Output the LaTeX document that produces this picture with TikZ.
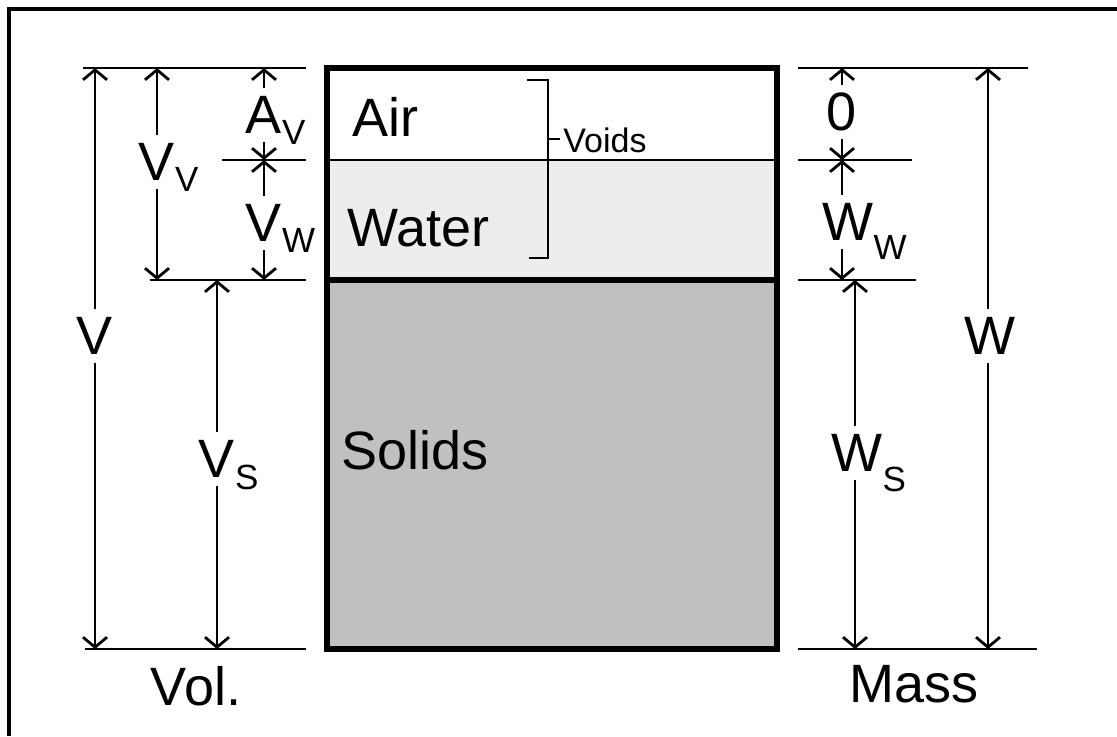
\documentclass[tikz,border=0pt]{standalone}
\usepackage{fontspec}
\setmainfont{Liberation Sans}
\usepackage{xcolor}
\usepackage{tikz}
\usetikzlibrary{arrows.meta}
\definecolor{waterfill}{HTML}{EDEDED}
\definecolor{solidfill}{HTML}{C0C0C0}
% subscript hanging right of the letter, optional drop
\newcommand\sbs[2][5.5pt]{\rlap{\raisebox{-#1}[0pt][0pt]{\fontsize{17.5}{20}\selectfont #2}}}

\begin{document}
\begin{tikzpicture}[
    x=0.5pt, y=-0.5pt,
    every node/.style={font=\fontsize{27}{30}\selectfont, inner sep=0pt},
    extline/.style={line width=1.4pt},
    dimarrow/.style={line width=1.4pt, >={Straight Barb[length=5pt,width=12pt]}, <->},
    dimlbl/.style={fill=white, inner xsep=1pt, inner ysep=4pt},
    phase/.style={anchor=west},
    boxline/.style={line width=3.25pt},
    frameline/.style={line width=1.6pt}
]
\useasboundingbox (0,0) rectangle (1117,736);

% outer frame
\coordinate (fbl) at (9,736);
\coordinate (ftl) at (9,9);
\coordinate (ftr) at (1117,9);
\draw[frameline] (fbl) -- (ftl) -- (ftr);

% phase box
\coordinate (boxnw) at (327,68);
\coordinate (boxse) at (777,649);
\coordinate (airw) at (327,160);
\coordinate (aire) at (777,160);
\coordinate (solw) at (327,280);
\coordinate (sole) at (777,280);
\fill[waterfill] (airw) rectangle (sole);
\fill[solidfill] (solw) rectangle (boxse);
\draw[extline] (airw) -- (aire);
\draw[boxline] (solw) -- (sole);
\draw[boxline] (boxnw) rectangle (boxse);

\node[phase] (air)    at (352,117) {Air};
\node[phase] (water)  at (347,228) {Water};
\node[phase] (solids) at (341,450) {Solids};

% voids bracket
\coordinate (brtop) at (527,80);
\coordinate (brbot) at (529,258);
\coordinate (brmid) at (548,139);
\coordinate (brtick) at (560,139);
\draw[extline] (brtop) -| (brbot -| brmid) -- (brbot);
\draw[extline] (brmid) -- (brtick);
\node[phase, font=\fontsize{17}{20}\selectfont] (voids) at (563,140) {Voids};

% volume side
\coordinate (vl1a) at (83,68);   \coordinate (vl1b) at (306,68);
\coordinate (vl2a) at (222,160); \coordinate (vl2b) at (306,160);
\coordinate (vl3a) at (150,280); \coordinate (vl3b) at (306,280);
\coordinate (vl4a) at (85,649);  \coordinate (vl4b) at (306,649);
\draw[extline] (vl1a) -- (vl1b);
\draw[extline] (vl2a) -- (vl2b);
\draw[extline] (vl3a) -- (vl3b);
\draw[extline] (vl4a) -- (vl4b);

\coordinate (vtop) at (95,68);    \coordinate (vbot) at (95,649);
\draw[dimarrow] (vtop) -- (vbot);
\node[dimlbl] (vlbl) at (95,336) {V};
\coordinate (vvtop) at (157,68);  \coordinate (vvbot) at (157,280);
\draw[dimarrow] (vvtop) -- (vvbot);
\node[dimlbl] (vvlbl) at (157,162) {V\sbs{V}};
\coordinate (avtop) at (264,68);  \coordinate (avbot) at (264,160);
\draw[dimarrow] (avtop) -- (avbot);
\node[dimlbl] (avlbl) at (264,115) {A\sbs{V}};
\coordinate (vwtop) at (264,160); \coordinate (vwbot) at (264,280);
\draw[dimarrow] (vwtop) -- (vwbot);
\node[dimlbl] (vwlbl) at (264,223) {V\sbs{W}};
\coordinate (vstop) at (217,280); \coordinate (vsbot) at (217,649);
\draw[dimarrow] (vstop) -- (vsbot);
\node[dimlbl] (vslbl) at (217,459) {V\sbs[6pt]{S}};

\node (vol) at (196,686) {Vol.};

% mass side
\coordinate (ml1a) at (798,68);  \coordinate (ml1b) at (1028,68);
\coordinate (ml2a) at (798,160); \coordinate (ml2b) at (912,160);
\coordinate (ml3a) at (798,280); \coordinate (ml3b) at (916,280);
\coordinate (ml4a) at (798,649); \coordinate (ml4b) at (1037,649);
\draw[extline] (ml1a) -- (ml1b);
\draw[extline] (ml2a) -- (ml2b);
\draw[extline] (ml3a) -- (ml3b);
\draw[extline] (ml4a) -- (ml4b);

\coordinate (matop) at (842,68);  \coordinate (mabot) at (842,160);
\draw[dimarrow] (matop) -- (mabot);
\node[dimlbl] (malbl) at (842,112) {0};
\coordinate (wwtop) at (842,160); \coordinate (wwbot) at (842,280);
\draw[dimarrow] (wwtop) -- (wwbot);
\node[dimlbl] (wwlbl) at (848,222) {W\sbs[9.5pt]{W}};
\coordinate (wstop) at (855,280); \coordinate (wsbot) at (855,649);
\draw[dimarrow] (wstop) -- (wsbot);
\node[dimlbl] (wslbl) at (857,453) {W\sbs[10pt]{S}};
\coordinate (wtop) at (988,68);   \coordinate (wbot) at (988,649);
\draw[dimarrow] (wtop) -- (wbot);
\node[dimlbl] (wlbl) at (990,336) {W};

\node (mass) at (914,684) {Mass};
\end{tikzpicture}
\end{document}
